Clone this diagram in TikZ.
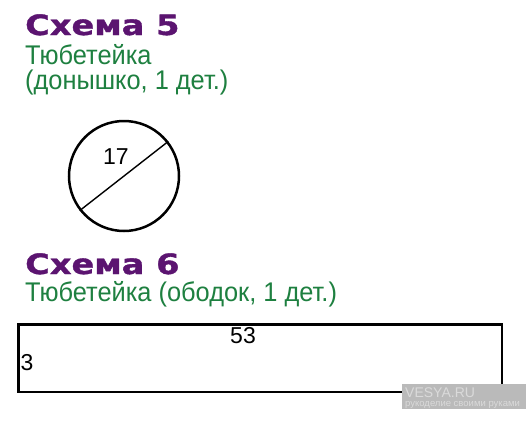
\documentclass[tikz,border=0pt]{standalone}
\usepackage{fontspec}
\setmainfont{Liberation Sans}
\newfontfamily\titlefont[FakeStretch=1.2,FakeBold=1.3]{DejaVu Sans Bold}
\newfontfamily\greenfont[FakeStretch=0.94]{Liberation Sans}
\definecolor{schpurple}{HTML}{5B1470}
\definecolor{schgreen}{HTML}{1E8040}
\definecolor{wmgray}{HTML}{BABABA}
\definecolor{wmtext}{HTML}{DADADA}
\tikzset{
  title/.style={anchor=base west, inner sep=0pt, text=schpurple, font=\titlefont\fontsize{28}{28}\selectfont},
  sub/.style={anchor=base west, inner sep=0pt, text=schgreen, font=\greenfont\fontsize{27}{27}\selectfont},
  dim/.style={inner sep=0pt, font=\fontsize{23}{23}\selectfont},
  outline/.style={draw=black, line width=2.5pt, inner sep=0pt}
}
\begin{document}
\begin{tikzpicture}[x=1pt,y=-1pt]
\useasboundingbox[fill=white] (0,0) rectangle (526,420);
% Schema 5
\node[title] (t5) at (25,35) {Схема 5};
\node[sub] (s5a) at (25,64) {Тюбетейка};
\node[sub] (s5b) at (25,89) {(донышко, 1 дет.)};
\node[outline, circle, minimum size=110pt] (c) at (124,176) {};
\draw[line width=1.4pt] (c.38) -- (c.218);
\node[dim] (d17) at (116,157) {17};
% Schema 6
\node[title] (t6) at (25,274) {Схема 6};
\node[sub] (s6) at (25,301) {Тюбетейка (ободок, 1 дет.)};
\node[outline, rectangle, minimum width=483.5pt, minimum height=67.5pt] (r) at (260,358) {};
\node[dim] (d53) at (243,336) {53};
\node[dim] (d3) at (27,363) {3};
% watermark
\node[fill=wmgray, anchor=north west, minimum width=124pt, minimum height=25pt, inner sep=0pt] (wm) at (402,384) {};
\node[anchor=base west, inner sep=0pt, text=wmtext, font=\fontsize{14}{14}\selectfont] (wm1) at (405,397) {VESYA.RU};
\node[anchor=base west, inner sep=0pt, text=wmtext, font=\fontsize{9.5}{9.5}\selectfont] (wm2) at (405,406) {рукоделие своими руками};
\end{tikzpicture}
\end{document}
